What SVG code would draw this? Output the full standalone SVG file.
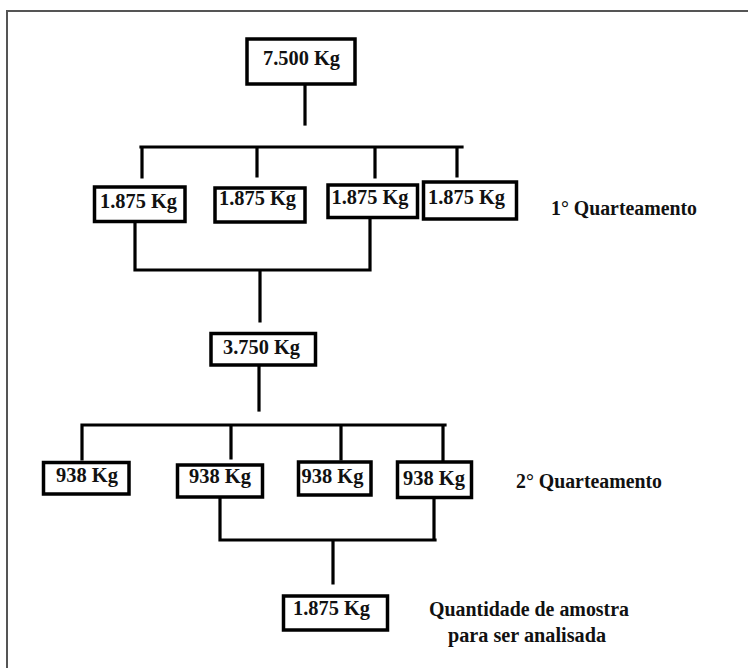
<svg xmlns="http://www.w3.org/2000/svg" width="748" height="668" viewBox="0 0 748 668">
<style>
.box{fill:#fff;stroke:#000;stroke-width:3.5}
.t{font-family:'Liberation Serif','DejaVu Serif',serif;font-weight:700;font-size:20px;fill:#111}
.c{fill:none;stroke:#000;stroke-width:3.2;stroke-linecap:square}
</style>
<rect x="0" y="0" width="748" height="668" fill="#fff"/>
<rect x="7" y="11" width="780" height="700" fill="none" stroke="#555" stroke-width="2"/>
<g id="connectors">
<path class="c" d="M305,86V124"/>
<path class="c" d="M141,147H462M142,147V177M257,147V176M375,147V177M457,147V176"/>
<path class="c" d="M135,223V270M370,219V270M135,270H370M260,270V321"/>
<path class="c" d="M259,367V410"/>
<path class="c" d="M82,425H445M82,425V459M231,425V458M341,425V459M443,425V460"/>
<path class="c" d="M220,499V540M434,499V540M220,540H435M333,540V583"/>
</g>
<g id="n0"><rect class="box" x="247" y="39" width="108" height="45"/><text class="t" x="263" y="65" textLength="77" lengthAdjust="spacingAndGlyphs">7.500 Kg</text></g>
<g id="n1a"><rect class="box" x="94.5" y="187" width="90.5" height="34.5"/><text class="t" x="100" y="208" textLength="77" lengthAdjust="spacingAndGlyphs">1.875 Kg</text></g>
<g id="n1b"><rect class="box" x="215" y="188" width="90" height="34"/><text class="t" x="219" y="205" textLength="77" lengthAdjust="spacingAndGlyphs">1.875 Kg</text></g>
<g id="n1c"><rect class="box" x="328" y="185" width="89.5" height="32.5"/><text class="t" x="331.5" y="203.5" textLength="77" lengthAdjust="spacingAndGlyphs">1.875 Kg</text></g>
<g id="n1d"><rect class="box" x="423.5" y="182" width="93" height="37"/><text class="t" x="428" y="204" textLength="77" lengthAdjust="spacingAndGlyphs">1.875 Kg</text></g>
<g id="label1"><text class="t" x="551" y="215" textLength="146" lengthAdjust="spacingAndGlyphs">1° Quarteamento</text></g>
<g id="n2"><rect class="box" x="211" y="333.5" width="104.5" height="31.5"/><text class="t" x="223" y="354" textLength="77" lengthAdjust="spacingAndGlyphs">3.750 Kg</text></g>
<g id="m1"><rect class="box" x="43.5" y="462.5" width="85.5" height="31.5"/><text class="t" x="56" y="481.5" textLength="62" lengthAdjust="spacingAndGlyphs">938 Kg</text></g>
<g id="m2"><rect class="box" x="177.5" y="465" width="85" height="32"/><text class="t" x="189" y="483" textLength="62" lengthAdjust="spacingAndGlyphs">938 Kg</text></g>
<g id="m3"><rect class="box" x="298.5" y="462" width="72.5" height="33"/><text class="t" x="301.5" y="483" textLength="62" lengthAdjust="spacingAndGlyphs">938 Kg</text></g>
<g id="m4"><rect class="box" x="397.5" y="462" width="74" height="35.5"/><text class="t" x="403" y="485" textLength="62" lengthAdjust="spacingAndGlyphs">938 Kg</text></g>
<g id="label2"><text class="t" x="516" y="488" textLength="146" lengthAdjust="spacingAndGlyphs">2° Quarteamento</text></g>
<g id="final"><rect class="box" x="283.5" y="596" width="104" height="34"/><text class="t" x="293" y="615" textLength="77" lengthAdjust="spacingAndGlyphs">1.875 Kg</text></g>
<g id="label3"><text class="t" x="429" y="616" textLength="200" lengthAdjust="spacingAndGlyphs">Quantidade de amostra</text><text class="t" x="448" y="642" textLength="158" lengthAdjust="spacingAndGlyphs">para ser analisada</text></g>
</svg>
